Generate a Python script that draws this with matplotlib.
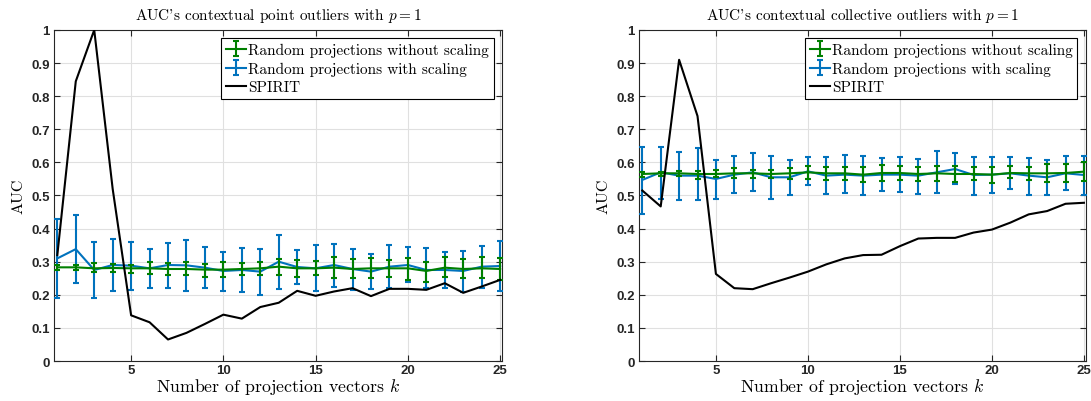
import matplotlib
matplotlib.use("Agg")
import matplotlib.pyplot as plt
import numpy as np

plt.rcParams['mathtext.fontset'] = 'cm'
plt.rcParams['axes.unicode_minus'] = False

k = list(range(1, 26))

# left panel: contextual point outliers
point_spirit = [0.32, 0.845, 1.0, 0.52, 0.138, 0.117, 0.065, 0.085, 0.112, 0.14,
                0.128, 0.163, 0.176, 0.212, 0.197, 0.21, 0.22, 0.196, 0.218, 0.218,
                0.215, 0.235, 0.206, 0.225, 0.245]
point_scaled = [0.31, 0.338, 0.275, 0.29, 0.288, 0.28, 0.29, 0.289, 0.282, 0.272,
                0.275, 0.27, 0.3, 0.284, 0.28, 0.29, 0.278, 0.27, 0.285, 0.29,
                0.275, 0.275, 0.272, 0.285, 0.287]
point_scaled_lo = [0.19, 0.235, 0.19, 0.21, 0.215, 0.22, 0.222, 0.21, 0.22, 0.21,
                   0.208, 0.2, 0.217, 0.232, 0.21, 0.225, 0.215, 0.218, 0.222, 0.24,
                   0.22, 0.222, 0.208, 0.222, 0.21]
point_scaled_hi = [0.43, 0.44, 0.36, 0.37, 0.36, 0.338, 0.358, 0.365, 0.345, 0.328,
                   0.34, 0.338, 0.382, 0.334, 0.35, 0.353, 0.338, 0.323, 0.35, 0.345,
                   0.34, 0.328, 0.332, 0.347, 0.363]
point_plain = [0.283, 0.283, 0.28, 0.281, 0.28, 0.28, 0.278, 0.278, 0.276, 0.276,
               0.278, 0.28, 0.285, 0.28, 0.28, 0.282, 0.278, 0.28, 0.28, 0.28,
               0.272, 0.282, 0.278, 0.28, 0.278]
point_plain_lo = [0.275, 0.275, 0.27, 0.268, 0.265, 0.263, 0.26, 0.26, 0.255, 0.255,
                  0.26, 0.26, 0.26, 0.255, 0.26, 0.25, 0.25, 0.25, 0.253, 0.245,
                  0.24, 0.253, 0.25, 0.25, 0.245]
point_plain_hi = [0.29, 0.29, 0.295, 0.292, 0.29, 0.298, 0.295, 0.298, 0.292, 0.3,
                  0.297, 0.3, 0.307, 0.305, 0.302, 0.315, 0.307, 0.31, 0.305, 0.31,
                  0.3, 0.313, 0.307, 0.313, 0.31]

# right panel: contextual collective outliers
coll_spirit = [0.515, 0.467, 0.91, 0.74, 0.263, 0.22, 0.217, 0.235, 0.252, 0.27,
               0.292, 0.31, 0.32, 0.321, 0.347, 0.37, 0.372, 0.372, 0.388, 0.397,
               0.418, 0.443, 0.453, 0.475, 0.478]
coll_scaled = [0.547, 0.57, 0.56, 0.56, 0.55, 0.563, 0.57, 0.555, 0.555, 0.573,
               0.56, 0.563, 0.56, 0.563, 0.563, 0.56, 0.57, 0.58, 0.562, 0.563,
               0.567, 0.56, 0.555, 0.567, 0.562]
coll_scaled_lo = [0.445, 0.49, 0.485, 0.485, 0.49, 0.508, 0.515, 0.49, 0.502, 0.532,
                  0.505, 0.507, 0.503, 0.513, 0.51, 0.505, 0.508, 0.535, 0.503, 0.507,
                  0.52, 0.503, 0.503, 0.517, 0.502]
coll_scaled_hi = [0.647, 0.648, 0.632, 0.645, 0.608, 0.62, 0.628, 0.62, 0.608, 0.617,
                  0.617, 0.622, 0.618, 0.612, 0.617, 0.61, 0.633, 0.628, 0.617, 0.617,
                  0.615, 0.612, 0.607, 0.618, 0.618]
coll_plain = [0.565, 0.567, 0.567, 0.565, 0.565, 0.567, 0.567, 0.565, 0.567, 0.57,
              0.567, 0.567, 0.563, 0.568, 0.568, 0.565, 0.567, 0.565, 0.565, 0.563,
              0.568, 0.567, 0.567, 0.568, 0.572]
coll_plain_lo = [0.557, 0.56, 0.56, 0.55, 0.555, 0.553, 0.552, 0.553, 0.55, 0.55,
                 0.548, 0.548, 0.54, 0.545, 0.548, 0.545, 0.545, 0.54, 0.548, 0.537,
                 0.553, 0.547, 0.54, 0.542, 0.545]
coll_plain_hi = [0.572, 0.572, 0.575, 0.575, 0.578, 0.583, 0.578, 0.578, 0.582, 0.588,
                 0.587, 0.585, 0.585, 0.592, 0.588, 0.585, 0.588, 0.588, 0.585, 0.585,
                 0.588, 0.585, 0.595, 0.595, 0.6]

titles = ["AUC's contextual point outliers with $p = 1$",
          "AUC's contextual collective outliers with $p = 1$"]
labels = ["Random projections without scaling", "Random projections with scaling", "SPIRIT"]

green = '#007F00'
blue = '#0072BD'
tick_color = '#262626'
serif = 'cmr10'


def draw_panel(ax, title, spirit, scaled, s_lo, s_hi, plain, p_lo, p_hi):
    x = np.array(k)
    scaled = np.array(scaled)
    plain = np.array(plain)
    err_s = [scaled - np.array(s_lo), np.array(s_hi) - scaled]
    err_p = [plain - np.array(p_lo), np.array(p_hi) - plain]
    h_p = ax.errorbar(x, plain, yerr=err_p, color=green, lw=1.5, elinewidth=1.5,
                      capsize=2.5, capthick=1.5, zorder=4)
    h_s = ax.errorbar(x, scaled, yerr=err_s, color=blue, lw=1.5, elinewidth=1.5,
                      capsize=2.5, capthick=1.5, zorder=3)
    h_k, = ax.plot(x, spirit, color='black', lw=1.5, zorder=5)

    ax.set_xlim(0.82, 25.1)
    ax.set_ylim(0, 1)
    ax.set_xticks([5, 10, 15, 20, 25])
    ax.set_yticks(np.arange(0, 1.01, 0.1))
    ax.set_yticklabels(['0'] + ['%.1f' % v for v in np.arange(0.1, 0.95, 0.1)] + ['1'])
    ax.grid(True, color='#E0E0E0', lw=0.8)
    ax.set_axisbelow(True)
    ax.tick_params(direction='in', top=True, right=True, length=4,
                   labelsize=9.5, colors=tick_color, width=0.8, pad=3)
    ax.tick_params(axis='x', pad=2)
    for lab in ax.get_xticklabels() + ax.get_yticklabels():
        lab.set_fontweight('bold')
        lab.set_family('Liberation Sans')
    for sp in ax.spines.values():
        sp.set_color(tick_color)
        sp.set_linewidth(0.8)

    ax.set_title(title, fontsize=11, family=serif, pad=8)
    ax.set_xlabel('Number of projection vectors $k$', fontsize=12.8, family=serif, labelpad=0)
    ax.set_ylabel('AUC', fontsize=11.5, family=serif, labelpad=4)

    leg = ax.legend([h_p, h_s, h_k], labels, loc='upper right', fancybox=False,
                    edgecolor='black', framealpha=1, borderpad=0.3, labelspacing=0.3,
                    handlelength=1.3, handletextpad=0.15, borderaxespad=0.55,
                    prop={'family': serif, 'size': 11})
    leg.get_frame().set_linewidth(0.8)


fig = plt.figure(figsize=(10.91, 4.02), dpi=100)
ax1 = fig.add_axes([0.0495, 0.0995, 0.4106, 0.8234])
ax2 = fig.add_axes([0.5857, 0.0995, 0.4095, 0.8234])

draw_panel(ax1, titles[0], point_spirit, point_scaled, point_scaled_lo, point_scaled_hi,
           point_plain, point_plain_lo, point_plain_hi)
draw_panel(ax2, titles[1], coll_spirit, coll_scaled, coll_scaled_lo, coll_scaled_hi,
           coll_plain, coll_plain_lo, coll_plain_hi)

fig.savefig('out.png', dpi=100)
